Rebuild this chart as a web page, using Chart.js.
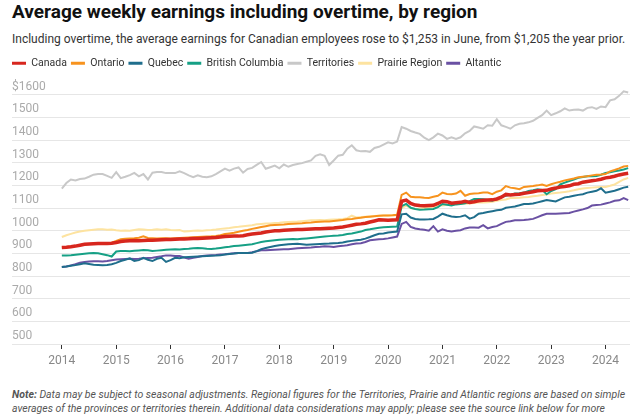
<!DOCTYPE html>
<html><head><meta charset="utf-8">
<script src="https://cdn.jsdelivr.net/npm/chart.js@4.4.1/dist/chart.umd.min.js"></script>
<style>
html,body{margin:0;padding:0;background:#fff;width:640px;height:415px;overflow:hidden;font-family:Roboto,"Noto Sans",sans-serif;}
#title{position:absolute;left:12px;top:1px;font-size:19px;font-weight:700;color:#111;line-height:22px;white-space:nowrap;}
#sub{position:absolute;left:12px;top:31px;font-size:12px;color:#333;line-height:16px;white-space:nowrap;}
#wrap{position:absolute;left:0;top:54px;width:640px;height:330px;}
#note{position:absolute;left:12px;top:388px;width:622px;font-size:10.5px;font-style:italic;color:#555;line-height:14px;}
</style></head>
<body>
<div id="title">Average weekly earnings including overtime, by region</div>
<div id="sub">Including overtime, the average earnings for Canadian employees rose to $1,253 in June, from $1,205 the year prior.</div>
<div id="wrap"><canvas id="c" width="640" height="330"></canvas></div>
<div id="note"><b>Note:</b> Data may be subject to seasonal adjustments. Regional figures for the Territories, Prairie and Atlantic regions are based on simple averages of the provinces or territories therein. Additional data considerations may apply; please see the source link below for more</div>
<script>
// Monthly data, January 2014 to June 2024
const seriesNames = ['Canada','Ontario','Quebec','British Columbia','Territories','Prairie Region','Altantic'];
const yearLabels = ['2014','2015','2016','2017','2018','2019','2020','2021','2022','2023','2024'];
const yTickValues = [500,600,700,800,900,1000,1100,1200,1300,1400,1500,1600];

const canada = [
926,927,929,932,936,940,941,942,943,943,943,945,
948,952,954,956,957,956,957,958,958,959,960,961,
961,962,963,963,964,966,965,967,968,969,970,972,
974,975,976,976,978,982,985,988,990,994,997,1000,
1000,1002,1003,1004,1005,1005,1006,1007,1008,1009,1010,1011,
1012,1014,1016,1020,1024,1028,1030,1033,1038,1043,1048,1047,
1046,1047,1048,1130,1135,1120,1113,1111,1110,1111,1112,1120,
1130,1128,1121,1123,1125,1130,1125,1128,1132,1134,1135,1136,
1140,1148,1160,1158,1160,1161,1165,1168,1172,1176,1177,1178,
1184,1188,1193,1195,1198,1205,1207,1214,1217,1220,1223,1227,
1233,1236,1240,1246,1250,1253];
const ontario = [
927,928,930,933,936,939,941,942,943,944,945,947,
955,962,964,966,967,969,975,968,967,966,967,967,
966,967,968,969,970,971,972,973,974,975,977,980,
985,988,991,995,1000,1003,1008,1012,1016,1020,1024,1025,
1026,1027,1029,1031,1032,1033,1035,1036,1038,1039,1040,1041,
1043,1045,1047,1050,1052,1055,1057,1060,1062,1064,1066,1067,
1067,1068,1070,1158,1168,1150,1148,1147,1145,1144,1150,1154,
1168,1162,1161,1164,1176,1154,1162,1164,1165,1168,1168,1161,
1172,1178,1197,1190,1187,1183,1193,1195,1197,1200,1204,1197,
1205,1211,1216,1222,1226,1230,1236,1238,1240,1244,1247,1248,
1250,1262,1268,1275,1283,1286];
const quebec = [
840,842,845,848,852,856,853,850,849,848,849,852,
858,866,872,878,866,870,880,872,866,876,880,862,
870,880,878,883,884,885,886,887,888,889,890,892,
895,897,899,902,901,902,903,910,918,924,928,932,
936,938,940,941,942,940,938,939,940,941,942,943,
945,946,948,952,955,958,960,965,972,980,986,988,
992,994,996,1072,1075,1058,1052,1049,1049,1050,1052,1062,
1075,1068,1063,1060,1062,1068,1053,1060,1075,1078,1082,1086,
1090,1092,1101,1104,1107,1112,1118,1118,1120,1125,1130,1135,
1132,1129,1138,1147,1150,1154,1158,1161,1168,1172,1176,1187,
1168,1172,1176,1183,1190,1194];
const britishColumbia = [
890,891,892,894,896,898,900,901,900,896,892,886,
908,910,910,909,911,913,915,914,910,912,914,916,
917,918,917,919,920,922,924,922,920,919,921,924,
927,929,932,934,936,938,940,945,950,953,956,958,
960,961,962,963,962,964,966,968,970,972,974,976,
978,979,981,985,988,992,996,1003,1006,1010,1013,1015,
1016,1017,1018,1108,1118,1101,1096,1092,1093,1095,1096,1104,
1118,1114,1111,1116,1118,1121,1130,1140,1140,1139,1135,1132,
1140,1150,1154,1158,1164,1165,1168,1175,1178,1183,1180,1161,
1175,1183,1204,1212,1219,1226,1233,1237,1240,1240,1241,1247,
1255,1258,1262,1266,1270,1276];
const territories = [
1186,1210,1226,1222,1228,1230,1238,1247,1250,1250,1242,1233,
1258,1232,1238,1245,1255,1240,1250,1226,1256,1259,1259,1254,
1254,1254,1262,1254,1244,1236,1244,1238,1236,1240,1250,1262,
1274,1265,1274,1279,1256,1272,1277,1290,1303,1273,1280,1287,
1275,1292,1282,1290,1294,1298,1304,1310,1330,1337,1330,1290,
1310,1331,1335,1362,1377,1355,1350,1352,1348,1365,1370,1380,
1390,1385,1393,1457,1450,1440,1433,1427,1410,1400,1412,1428,
1420,1405,1412,1405,1412,1430,1440,1460,1455,1450,1465,1463,
1492,1465,1458,1450,1465,1472,1474,1478,1485,1498,1510,1530,
1510,1518,1527,1540,1530,1534,1535,1530,1542,1545,1537,1548,
1545,1575,1580,1595,1615,1610];
const prairie = [
972,980,986,992,996,1000,1002,1004,1006,1006,1004,1005,
1002,1000,1001,1000,1003,1006,1005,1003,1004,1006,1004,1006,
1003,1002,1003,996,998,1000,1001,1000,1002,1003,1005,1008,
1010,1012,1015,1017,1020,1022,1024,1028,1030,1032,1032,1034,
1035,1037,1038,1039,1040,1042,1044,1046,1046,1047,1046,1048,
1049,1050,1052,1055,1066,1058,1060,1062,1064,1065,1066,1067,
1067,1068,1068,1100,1111,1100,1096,1098,1100,1102,1106,1111,
1111,1114,1116,1118,1118,1119,1120,1122,1125,1124,1125,1128,
1132,1135,1138,1144,1144,1145,1147,1149,1152,1154,1157,1160,
1164,1166,1168,1171,1174,1178,1183,1186,1188,1190,1192,1193,
1193,1198,1204,1215,1226,1233];
const atlantic = [
840,842,847,852,859,862,864,865,865,864,866,870,
873,874,875,876,875,876,878,880,881,884,887,891,
890,888,888,882,876,880,884,888,890,892,893,895,
896,898,900,902,902,902,905,909,914,914,915,916,
917,918,918,920,922,924,925,926,928,929,931,930,
928,931,933,936,940,943,945,950,958,960,962,963,
966,970,974,1030,1039,1017,1010,1006,1004,1000,1020,996,
1006,1000,996,1000,1002,1010,1014,1014,1013,1024,1010,1016,
1020,1030,1039,1042,1046,1046,1047,1049,1052,1060,1068,1075,
1075,1075,1076,1077,1078,1084,1089,1094,1100,1111,1113,1115,
1120,1125,1132,1134,1144,1135];

const seriesValues = [canada, ontario, quebec, britishColumbia, territories, prairie, atlantic];
const seriesColors = ['#d7261e','#f7931e','#1f6e8c','#16a085','#c8c8c8','#fde3a0','#6a51a3'];
const seriesWidths = [3.5,2,2,2,2,2,2];

Chart.defaults.font.family = 'Roboto';
const datasets = seriesNames.map((name, i) => ({
  label: name,
  data: seriesValues[i].map((v, m) => ({x: m, y: v})),
  borderColor: seriesColors[i],
  backgroundColor: seriesColors[i],
  borderWidth: seriesWidths[i],
  pointRadius: 0,
  tension: 0,
  fill: false
}));

new Chart(document.getElementById('c'), {
  type: 'line',
  data: { datasets },
  options: {
    responsive: false,
    animation: false,
    devicePixelRatio: 1,
    layout: { padding: { left: 8, right: 10, top: 0, bottom: 10.6 } },
    plugins: {
      tooltip: { enabled: false },
      legend: {
        position: 'top',
        align: 'start',
        labels: {
          boxWidth: 14,
          boxHeight: 3,
          padding: 4,
          color: '#333',
          font: { size: 10.5 },
          generateLabels: (chart) => chart.data.datasets.map((ds, i) => ({
            text: ds.label, fillStyle: ds.borderColor, strokeStyle: ds.borderColor,
            lineWidth: 0, hidden: false, datasetIndex: i, fontColor: '#333'
          }))
        }
      }
    },
    scales: {
      x: {
        type: 'linear',
        min: -11,
        max: 125.4,
        afterBuildTicks: (s) => { s.ticks = yearLabels.map((y, i) => ({ value: i * 12 })); },
        ticks: {
          autoSkip: false, maxRotation: 0, padding: 5,
          color: '#888', font: { size: 12 },
          callback: (v, i) => yearLabels[i]
        },
        grid: { drawOnChartArea: false, drawTicks: true, tickLength: 5, color: '#333' },
        border: { display: false }
      },
      y: {
        min: 500,
        max: 1671.5,
        afterBuildTicks: (s) => { s.ticks = yTickValues.map(v => ({ value: v })); },
        afterFit: (s) => { s.width = 4; },
        ticks: {
          mirror: true, padding: 0, labelOffset: -8,
          color: '#aaa', font: { size: 12 },
          callback: (v) => v === 1600 ? '$1600' : String(v)
        },
        grid: { color: '#e6e6e6', drawTicks: false },
        border: { display: false }
      }
    }
  }
});
</script>
</body></html>
